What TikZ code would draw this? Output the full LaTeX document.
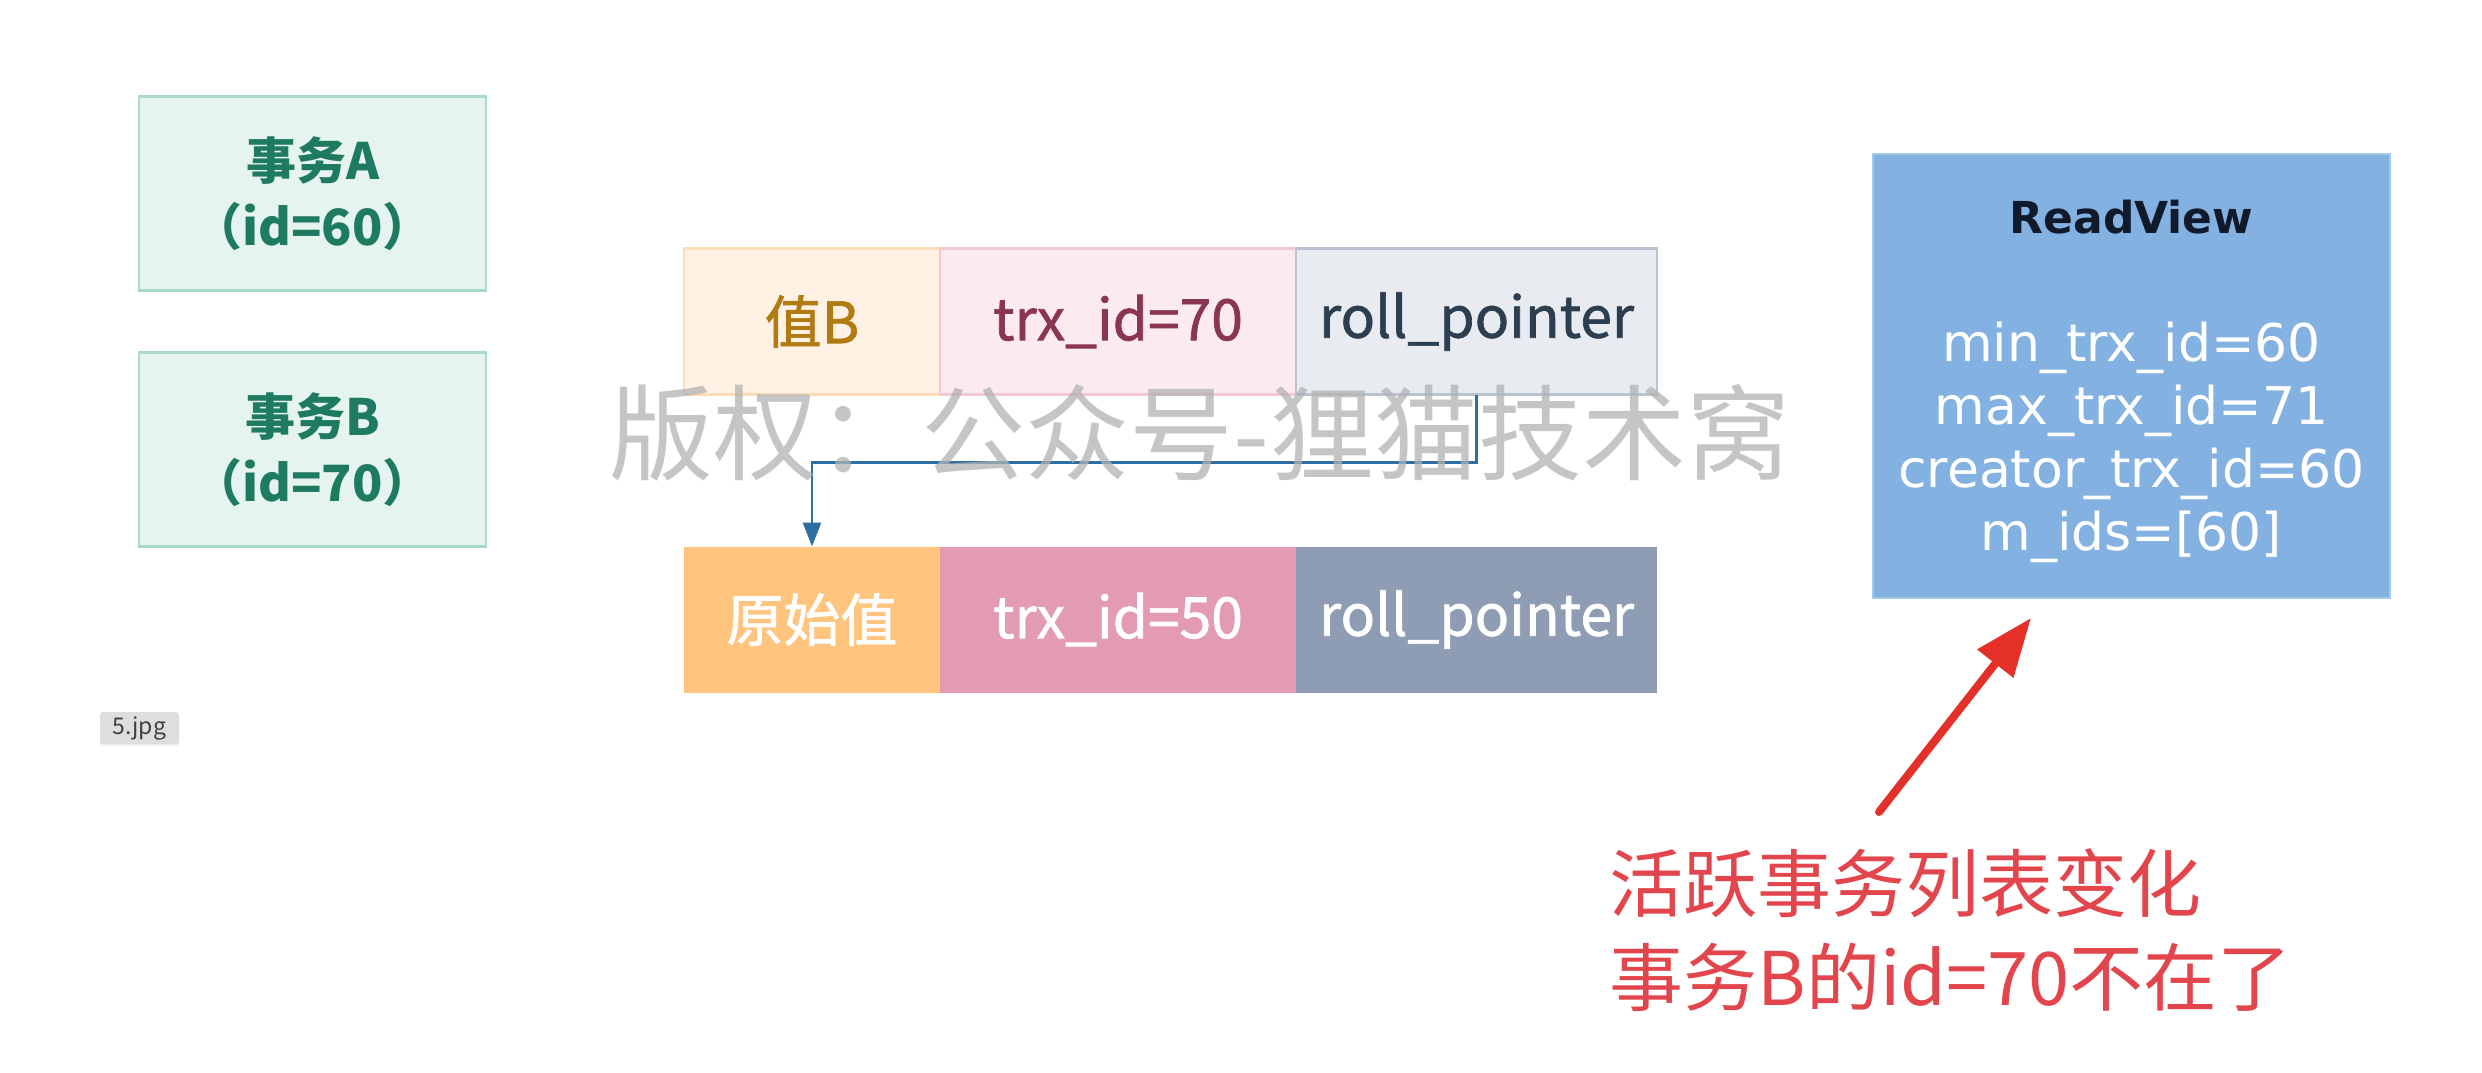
\documentclass[tikz,border=0pt]{standalone}
\usepackage{fontspec}
\setmainfont{Noto Sans CJK SC}
\newfontfamily\cellfont[FakeBold=1.2]{Noto Sans CJK SC}
\newfontfamily\rvfont{DejaVu Sans}
\usepackage{xcolor}
\usetikzlibrary{positioning, arrows.meta, shadows}

\definecolor{txfill}{HTML}{E6F4EF}
\definecolor{txdraw}{HTML}{A9D9C8}
\definecolor{txtext}{HTML}{1E7B62}
\definecolor{valfill}{HTML}{FFF2E4}
\definecolor{valdraw}{HTML}{FCDDB8}
\definecolor{valtext}{HTML}{B27B12}
\definecolor{trxfill}{HTML}{FBEAEF}
\definecolor{trxdraw}{HTML}{F1C8D3}
\definecolor{trxtext}{HTML}{8A3553}
\definecolor{rollfill}{HTML}{E8EBF0}
\definecolor{rolldraw}{HTML}{BAC3D1}
\definecolor{rolltext}{HTML}{2C3E50}
\definecolor{origfill}{HTML}{FFC47E}
\definecolor{oldtrxfill}{HTML}{E29BB0}
\definecolor{oldrollfill}{HTML}{8E9DB3}
\definecolor{linkblue}{HTML}{2E6FA3}
\definecolor{rvfill}{HTML}{83B1E1}
\definecolor{rvdraw}{HTML}{A6C8EC}
\definecolor{rvtitle}{HTML}{111A2A}
\definecolor{notered}{HTML}{E2454B}
\definecolor{arrowred}{HTML}{E5302A}

\begin{document}
\begin{tikzpicture}[x=1pt, y=-1pt,
  txbox/.style={draw=txdraw, fill=txfill, text=txtext, line width=2.5pt,
    minimum width=347pt, minimum height=194pt, align=center, outer sep=0pt,
    font=\fontsize{50}{66}\selectfont\bfseries},
  cell/.style={minimum height=146pt, inner sep=0pt, outer sep=0pt,
    line width=2.5pt, font=\cellfont\fontsize{57}{60}\selectfont},
  rvbox/.style={draw=rvdraw, fill=rvfill, line width=2.5pt,
    minimum width=517pt, minimum height=444pt, outer sep=0pt},
  link/.style={linkblue, line width=2.5pt, -{Triangle[length=24pt, width=18pt]}},
  redarrow/.style={arrowred, line width=8pt, line cap=round,
    -{Triangle[length=58pt, width=44pt]}}]

  % background and size
  \fill[white] (0,0) rectangle (2482,1072);
  \useasboundingbox (0,0) rectangle (2482,1072);

  % Transactions
  \node[txbox] (txA) at (312.5,193.5) {事务A\\（id=60）};
  \node[txbox, below=62pt of txA] (txB) {事务B\\（id=70）};

  % Rows
  \node[cell, draw=valdraw, fill=valfill, text=valtext, minimum width=256pt]
    (valB) at (812,321.5) {值B};
  \node[cell, draw=trxdraw, fill=trxfill, text=trxtext, minimum width=356pt,
    right=0pt of valB] (trx70) {trx\_id=70};
  \node[cell, draw=rolldraw, fill=rollfill, text=rolltext, minimum width=361pt,
    right=0pt of trx70] (rollB) {roll\_pointer};

  \node[cell, fill=origfill, text=white, minimum width=256pt,
    below=152pt of valB] (orig) {原始值};
  \node[cell, fill=oldtrxfill, text=white, minimum width=356pt,
    right=0pt of orig] (trx50) {trx\_id=50};
  \node[cell, fill=oldrollfill, text=white, minimum width=361pt,
    right=0pt of trx50] (rollO) {roll\_pointer};

  \draw[link] (rollB.south) -- ++(0,68) -| (orig.north);

  % ReadView
  \node[rvbox] (rv) at (2131.5,376) {};
  \node[text=rvtitle, font=\rvfont\fontsize{44}{50}\selectfont\bfseries]
    (rvt) at (2131.5,217) {ReadView};
  \node[text=white, align=center, font=\rvfont\fontsize{52}{63}\selectfont]
    (rvl) at (2131.5,442) {min\_trx\_id=60\\max\_trx\_id=71\\creator\_trx\_id=60\\m\_ids=[60]};

  % Note
  \coordinate (tail) at (1879,812);
  \coordinate (tip) at (2031,618);
  \draw[redarrow] (tail) -- (tip);
  \node[text=notered, align=left, anchor=north west,
    font=\fontsize{74}{94}\selectfont] (note) at (1606,845)
    {活跃事务列表变化\\事务B的id=70不在了};

  % Tag and watermark
  \node[fill=black!13, text=black!75, rounded corners=3pt, minimum width=79pt,
    minimum height=32pt, inner sep=0pt, font=\fontsize{23}{24}\selectfont,
    drop shadow={opacity=0.12, shadow xshift=0pt, shadow yshift=-2pt}]
    (tag) at (139.5,728) {5.jpg};
  \node[text=black!30, text opacity=0.75, font=\fontsize{104}{110}\selectfont]
    (mark) at (1200,433) {版权：公众号-狸猫技术窝};
\end{tikzpicture}
\end{document}
